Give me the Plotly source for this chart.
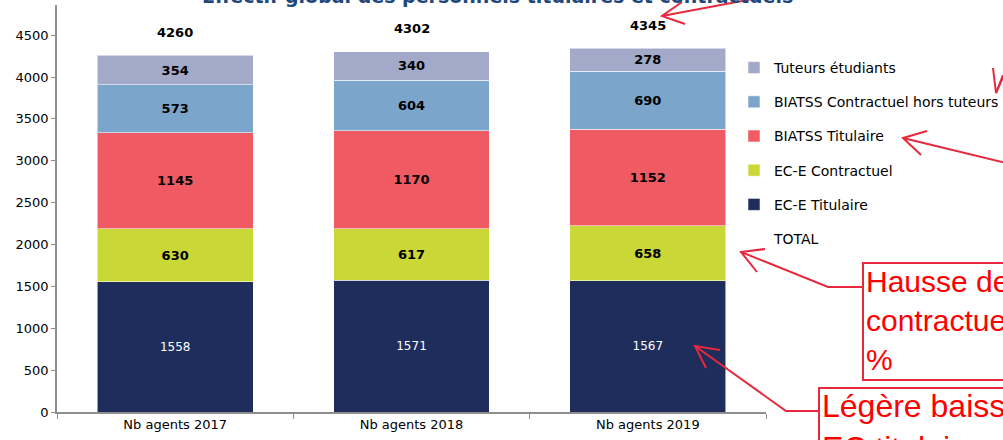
import plotly.graph_objects as go

categories = ["Nb agents 2017", "Nb agents 2018", "Nb agents 2019"]
ece_titulaire = [1558, 1571, 1567]
ece_contractuel = [630, 617, 658]
biatss_titulaire = [1145, 1170, 1152]
biatss_contractuel = [573, 604, 690]
tuteurs = [354, 340, 278]
totals = [4260, 4302, 4345]

series = [
    ("EC-E Titulaire", ece_titulaire, "#1E2D5C", "white", "normal", 5),
    ("EC-E Contractuel", ece_contractuel, "#C9D836", "black", "bold", 4),
    ("BIATSS Titulaire", biatss_titulaire, "#F05A62", "black", "bold", 3),
    ("BIATSS Contractuel hors tuteurs", biatss_contractuel, "#7CA5CB", "black", "bold", 2),
    ("Tuteurs étudiants", tuteurs, "#A3A9C8", "black", "bold", 1),
]

FONT = "DejaVu Sans"
L, R_EDGE, TOP, ZERO = 57, 766, 5, 412
W, H = R_EDGE - L, ZERO - TOP


def px(x):
    return (x - L) / W


def py(y):
    return (ZERO - y) / H


fig = go.Figure()

fig.add_trace(go.Scatter(
    x=categories, y=totals, mode="markers", name="TOTAL",
    marker=dict(color="rgba(0,0,0,0)", size=1),
    hoverinfo="skip", legendgroup="TOTAL", legendrank=6,
))

for name, vals, color, tcolor, weight, rank in series:
    fig.add_trace(go.Bar(
        x=categories, y=vals, name=name, legendgroup=name, legendrank=rank,
        marker=dict(color=color, line=dict(color="rgba(255,255,255,0.55)", width=1)),
        text=[str(v) for v in vals], textposition="inside", insidetextanchor="middle",
        textfont=dict(family=FONT, size=13 if weight == "bold" else 12, color=tcolor, weight=weight),
        constraintext="none",
    ))

annotations = []
for c, t in zip(categories, totals):
    annotations.append(dict(
        x=c, y=t, xref="x", yref="y", text=str(t), showarrow=False,
        yshift=23, font=dict(family=FONT, size=13, color="black", weight="bold"),
    ))

# partially visible title
annotations.append(dict(
    x=px(497), y=py(-4), xref="paper", yref="paper", xanchor="center", yanchor="middle",
    text="Effectif global des personnels titulaires et contractuels", showarrow=False,
    font=dict(family=FONT, size=19, color="#1F497D", weight="bold"),
))

RED = "#E8283C"
annotations.append(dict(
    x=px(864), y=py(263), xref="paper", yref="paper", xanchor="left", yanchor="top",
    align="left", text="Hausse des<br>contractuels de<br>%", showarrow=False,
    font=dict(family="Liberation Sans", size=30, color="#FF0000"),
))
annotations.append(dict(
    x=px(820), y=py(386), xref="paper", yref="paper", xanchor="left", yanchor="top",
    align="left", text="Légère baisse des<br>EC titulaires", showarrow=False,
    font=dict(family="Liberation Sans", size=32, color="#FF0000"),
))


def path(points):
    return "M" + " L".join(f"{px(x)},{py(y)}" for x, y in points)


shapes = []
line_paths = [
    [(758, -2), (662, 16)], [(682, 2), (662, 16), (685, 24)],
    [(993, 68), (996, 93), (1003, 75)], [(996, 93), (1015, 50)],
    [(1010, 164), (903, 138)], [(927, 131), (903, 138), (921, 155)],
    [(863, 287), (828, 287), (741, 252)], [(765, 249), (741, 252), (757, 272)],
    [(819, 411), (786, 411), (695, 346)], [(720, 350), (695, 346), (706, 368)],
]
for pts in line_paths:
    shapes.append(dict(type="path", xref="paper", yref="paper", path=path(pts),
                       line=dict(color=RED, width=2)))
shapes.append(dict(type="rect", xref="paper", yref="paper",
                   x0=px(863), x1=px(1120), y0=py(380), y1=py(263),
                   line=dict(color=RED, width=2)))
shapes.append(dict(type="rect", xref="paper", yref="paper",
                   x0=px(819), x1=px(1120), y0=py(520), y1=py(388),
                   line=dict(color=RED, width=2)))

fig.update_layout(
    width=1003, height=440,
    margin=dict(l=L, r=1003 - R_EDGE, t=TOP, b=440 - ZERO, autoexpand=False),
    barmode="stack", bargap=0.34,
    plot_bgcolor="white", paper_bgcolor="white",
    font=dict(family=FONT, size=13, color="black"),
    showlegend=True,
    legend=dict(
        x=px(734), y=py(52), xanchor="left", yanchor="top",
        traceorder="grouped", tracegroupgap=13,
        font=dict(family=FONT, size=14, color="black"),
        bgcolor="rgba(0,0,0,0)",
    ),
    annotations=annotations,
    shapes=shapes,
    uniformtext=dict(mode=False),
)
fig.update_xaxes(
    showline=True, linecolor="#8E8E8E", linewidth=1.5,
    ticks="outside", tickson="boundaries", ticklen=5, tickcolor="#8E8E8E",
    tickfont=dict(family=FONT, size=13, color="black"),
    showgrid=False,
)
fig.update_yaxes(
    range=[0, 4860], showline=True, linecolor="#8E8E8E", linewidth=1.5,
    ticks="outside", ticklen=4, tickcolor="#8E8E8E", dtick=500,
    tickfont=dict(family=FONT, size=13, color="black"),
    showgrid=False, zeroline=False,
)

fig.write_html(
    "out.html",
    config={"displayModeBar": False},
    post_script="document.body.style.margin='0';document.body.style.overflow='hidden';",
)
